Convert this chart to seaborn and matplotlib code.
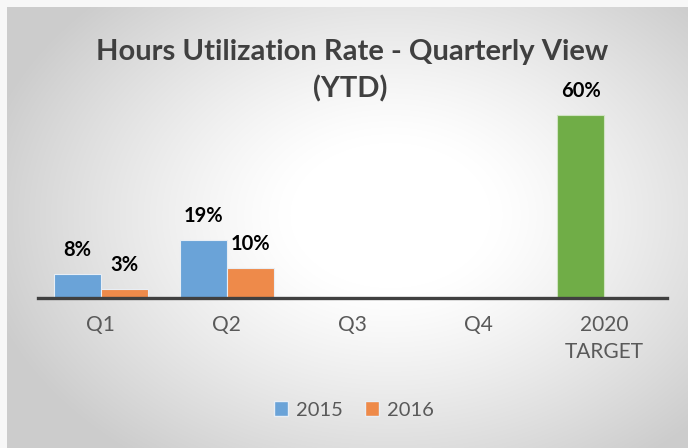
import numpy as np
import pandas as pd
import matplotlib
matplotlib.use("Agg")
import matplotlib.pyplot as plt
from matplotlib.patches import Patch
import seaborn as sns

# ---- data -------------------------------------------------------------
categories = ["Q1", "Q2", "Q3", "Q4", "2020\nTARGET"]
series = ["2015", "2016"]
values_2015 = [8, 19, np.nan, np.nan, 60]
values_2016 = [3, 10, np.nan, np.nan, np.nan]
target_category = "2020\nTARGET"

title_lines = ["Hours Utilization Rate - Quarterly View", "(YTD)"]

colors = {"2015": "#6AA3D8", "2016": "#EE8A4A"}
target_color = "#70AD47"

df = pd.DataFrame({
    "category": categories * 2,
    "series": [series[0]] * len(categories) + [series[1]] * len(categories),
    "value": values_2015 + values_2016,
})

# ---- figure -------------------------------------------------------------
sns.set_theme(style="white")
plt.rcParams["font.family"] = ["Lato", "DejaVu Sans"]

W, H = 688, 448
fig = plt.figure(figsize=(W / 100, H / 100), dpi=100)

# radial gradient chart-area background: white core fading to light gray
bg = fig.add_axes([0, 0, 1, 1], zorder=-10)
yy, xx = np.mgrid[0:H, 0:W]
cx, cy = 390, 215
r = np.sqrt(((xx - cx) / 400.0) ** 2 + ((yy - cy) / 290.0) ** 2)
t = np.clip((r - 0.25) / 0.8, 0, 1)
shade = 1.0 - 0.20 * t ** 1.2
img = np.dstack([shade, shade, shade])
# thin light margin at the top and left edges
img[:7, :, :] = 0.97
img[:, :7, :] = 0.97
bg.imshow(img, extent=[0, W, H, 0], aspect="auto", interpolation="bilinear")
bg.set_xlim(0, W)
bg.set_ylim(H, 0)
bg.axis("off")

ax = fig.add_axes([38 / W, 150 / H, 629 / W, 213.5 / H])
ax.set_facecolor("none")

sns.barplot(
    data=df, x="category", y="value", hue="series",
    order=categories, hue_order=series,
    palette=colors, width=0.75, gap=0,
    edgecolor="#e8eef5", linewidth=0.8, saturation=1,
    legend=False, ax=ax, errorbar=None,
)

ax.set_ylim(0, 70)
ax.set_xlim(-0.5, len(categories) - 0.5)

# target bar is drawn in green; every bar gets its value label
target_idx = categories.index(target_category)
for p in ax.patches:
    h = p.get_height()
    if not np.isfinite(h) or h <= 0:
        continue
    xc = p.get_x() + p.get_width() / 2
    if abs(xc - target_idx) < 0.5:
        p.set_facecolor(target_color)
        p.set_edgecolor("#cfe3c2")
    ax.annotate(f"{h:.0f}%", (xc, h), xytext=(0, 10), textcoords="offset points",
                ha="center", va="bottom", fontsize=14.5, fontweight="bold",
                color="black")

# axes styling
for s in ["top", "right", "left"]:
    ax.spines[s].set_visible(False)
ax.spines["bottom"].set_color("#404040")
ax.spines["bottom"].set_linewidth(2.4)
ax.set_yticks([])
ax.set_xlabel("")
ax.set_ylabel("")
ax.tick_params(axis="x", length=0, pad=12, labelsize=15, labelcolor="#595959")
for lbl in ax.get_xticklabels():
    lbl.set_linespacing(1.45)
    lbl.set_va("top")

fig.text(352 / W, 1 - 52 / H, title_lines[0], ha="center", va="center",
         fontsize=21, fontweight="bold", color="#404040")
fig.text(350 / W, 1 - 89 / H, title_lines[1], ha="center", va="center",
         fontsize=21, fontweight="bold", color="#404040")

handles = [Patch(facecolor=colors[s], edgecolor="#e8eef5", label=s) for s in series]
fig.legend(handles=handles, loc="center", bbox_to_anchor=(354 / W, 1 - 410 / H),
           ncol=2, frameon=False, fontsize=14.5, handlelength=0.7, handleheight=0.7,
           handletextpad=0.4, columnspacing=1.1, labelcolor="#595959")

fig.savefig("out.png", dpi=100)
